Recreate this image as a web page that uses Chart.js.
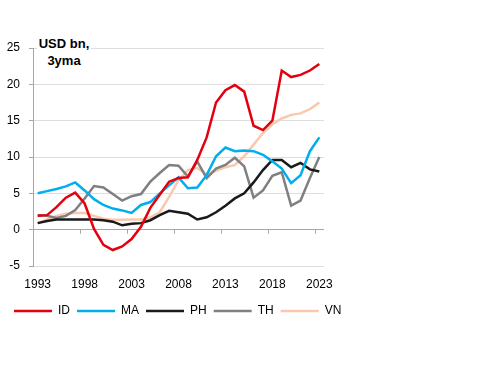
<!DOCTYPE html>
<html>
<head>
<meta charset="utf-8">
<script src="https://cdn.jsdelivr.net/npm/chart.js@4/dist/chart.umd.min.js"></script>
<style>
  html, body { margin: 0; padding: 0; background: #fff; }
  #wrap { position: relative; width: 488px; height: 366px; }
  #unit {
    position: absolute; left: 37px; top: 35px; width: 54px;
    text-align: center; font: bold 13px "Liberation Sans", Arial, sans-serif;
    line-height: 17px; color: #000; background: #fff;
  }
</style>
</head>
<body>
<div id="wrap">
  <canvas id="chart" width="488" height="366"></canvas>
  <div id="unit">USD bn,<br>3yma</div>
</div>
<script>
const years = ["1993", "1994", "1995", "1996", "1997", "1998", "1999", "2000", "2001", "2002",
  "2003", "2004", "2005", "2006", "2007", "2008", "2009", "2010", "2011", "2012",
  "2013", "2014", "2015", "2016", "2017", "2018", "2019", "2020", "2021", "2022", "2023"];

const idVals = [1.9, 2.0, 3.1, 4.4, 5.1, 3.6, 0.1, -2.1, -2.8, -2.3,
  -1.3, 0.4, 3.0, 4.8, 6.6, 7.1, 7.2, 9.6, 12.7, 17.5,
  19.2, 19.9, 19.0, 14.3, 13.7, 15.0, 21.9, 21.0, 21.3, 21.9, 22.8];
const maVals = [5.0, 5.3, 5.6, 5.95, 6.5, 5.4, 4.2, 3.4, 2.9, 2.65,
  2.3, 3.4, 3.8, 5.0, 6.1, 7.2, 5.7, 5.8, 7.5, 10.1,
  11.3, 10.8, 10.9, 10.8, 10.3, 9.4, 8.4, 6.4, 7.5, 10.8, 12.7];
const phVals = [0.9, 1.2, 1.4, 1.4, 1.4, 1.4, 1.4, 1.3, 1.1, 0.6,
  0.8, 0.9, 1.3, 2.0, 2.6, 2.4, 2.2, 1.4, 1.7, 2.4,
  3.3, 4.3, 5.0, 6.5, 8.2, 9.6, 9.6, 8.6, 9.2, 8.3, 8.0];
const thVals = [2.0, 1.9, 1.6, 1.9, 2.7, 4.3, 6.0, 5.8, 4.9, 4.0,
  4.6, 4.9, 6.6, 7.8, 8.9, 8.8, 7.3, 9.4, 7.1, 8.4,
  8.9, 9.9, 8.7, 4.4, 5.4, 7.4, 7.9, 3.3, 4.0, 7.1, 10.0];
const vnVals = [0.9, 1.4, 1.9, 2.2, 2.3, 2.3, 1.9, 1.5, 1.35, 1.35,
  1.4, 1.4, 1.7, 2.4, 4.5, 6.8, 8.2, 8.5, 7.6, 8.1,
  8.6, 8.9, 10.1, 11.7, 13.3, 14.5, 15.3, 15.8, 16.0, 16.6, 17.5];

const yTicks = [-5, 0, 5, 10, 15, 20, 25];

const font = { family: "'Liberation Sans', Arial, sans-serif", size: 12 };

const makeLine = (label, data, color) => ({
  label: label,
  data: data,
  borderColor: color,
  backgroundColor: color,
  borderWidth: 2.5,
  pointRadius: 0,
  tension: 0,
  fill: false,
});

// small tick marks on the zero line, every 5 categories
const zeroTicks = {
  id: "zeroTicks",
  beforeDatasetsDraw(chart) {
    const x = chart.scales.x;
    const y0 = chart.scales.y.getPixelForValue(0);
    const step = x.getPixelForValue(1) - x.getPixelForValue(0);
    const ctx = chart.ctx;
    ctx.save();
    ctx.strokeStyle = "#a6a6a6";
    ctx.lineWidth = 1;
    for (let i = 0; i < years.length; i += 5) {
      const px = Math.round(x.getPixelForValue(i) - step / 2) + 0.5;
      ctx.beginPath();
      ctx.moveTo(px, y0);
      ctx.lineTo(px, y0 + 4);
      ctx.stroke();
    }
    ctx.restore();
  },
};

new Chart(document.getElementById("chart"), {
  type: "line",
  data: {
    labels: years,
    datasets: [
      makeLine("ID", idVals, "#e3000f"),
      makeLine("MA", maVals, "#00aeef"),
      makeLine("PH", phVals, "#1a1a1a"),
      makeLine("TH", thVals, "#808080"),
      makeLine("VN", vnVals, "#f9c9ad"),
    ],
  },
  options: {
    responsive: false,
    animation: false,
    layout: { padding: { left: 7, right: 4, top: 48, bottom: 39 } },
    plugins: {
      tooltip: { enabled: false },
      legend: {
        position: "bottom",
        align: "start",
        labels: {
          usePointStyle: true,
          pointStyle: "line",
          pointStyleWidth: 38,
          padding: 7,
          color: "#000",
          font: font,
        },
      },
    },
    scales: {
      x: {
        offset: true,
        grid: { display: false, drawTicks: false },
        border: { display: false },
        ticks: {
          autoSkip: false,
          maxRotation: 0,
          padding: 11,
          color: "#000",
          font: font,
          callback: (v, i) => (i % 5 === 0 ? years[i] : ""),
        },
        afterFit: (s) => { s.height = 32; },
      },
      y: {
        min: -5,
        max: 25,
        afterBuildTicks: (s) => { s.ticks = yTicks.map((v) => ({ value: v })); },
        grid: {
          color: (c) => (c.tick && c.tick.value === 0 ? "#a6a6a6" : "#dedede"),
          tickColor: "#a6a6a6",
          tickLength: 4,
        },
        border: { display: true, color: "#a6a6a6" },
        ticks: { padding: 9, color: "#000", font: font },
        afterFit: (s) => { s.width = 26; },
      },
      pad: {
        type: "linear",
        position: "right",
        grid: { display: false, drawTicks: false },
        border: { display: false },
        ticks: { display: false },
        afterFit: (s) => { s.width = 160; },
      },
    },
  },
  plugins: [zeroTicks],
});
</script>
</body>
</html>
